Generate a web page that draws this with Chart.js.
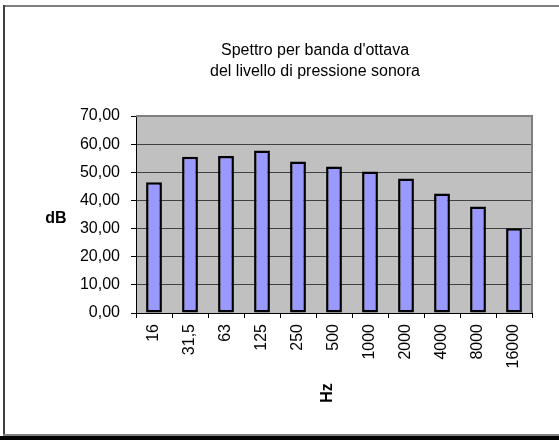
<!DOCTYPE html>
<html>
<head>
<meta charset="UTF-8">
<title>Spettro per banda d'ottava</title>
<script src="https://cdn.jsdelivr.net/npm/chart.js"></script>
<style>
  html, body { margin: 0; padding: 0; background: #fff; }
  #wrap { width: 559px; height: 440px; }
</style>
</head>
<body>
<div id="wrap"><canvas id="chart" width="559" height="440"></canvas></div>
<script>
// bande d'ottava (Hz) e livelli misurati (dB)
const bande = ['16', '31,5', '63', '125', '250', '500', '1000', '2000', '4000', '8000', '16000'];
const livelli = [46.5, 55.5, 55.8, 57.7, 53.8, 52.1, 50.3, 47.8, 42.5, 37.8, 30.1];
const titolo = ["Spettro per banda d'ottava", 'del livello di pressione sonora'];
const titoloY = 'dB';
const titoloX = 'Hz';

const FONT = "Arial, 'Liberation Sans', sans-serif";

// cornice esterna, sfondo grigio dell'area del grafico, titolo e titoli degli assi
const decorazioni = {
  id: 'decorazioni',
  beforeDraw(chart) {
    const { ctx, chartArea: a } = chart;
    ctx.save();
    ctx.fillStyle = '#c0c0c0';
    ctx.fillRect(a.left, a.top, a.right - a.left, a.bottom - a.top);
    // cornice
    ctx.strokeStyle = '#808080';
    ctx.lineWidth = 2;
    ctx.beginPath();
    ctx.moveTo(3, 6); ctx.lineTo(559, 6);
    ctx.stroke();
    ctx.strokeStyle = '#404040';
    ctx.beginPath();
    ctx.moveTo(4, 5); ctx.lineTo(4, 435);
    ctx.stroke();
    ctx.fillStyle = '#808080';
    ctx.fillRect(3, 434, 556, 2);
    ctx.fillStyle = '#000';
    ctx.fillRect(0, 436, 559, 4);
    ctx.restore();
  },
  afterDraw(chart) {
    const { ctx, chartArea: a } = chart;
    ctx.save();
    // bordo superiore e destro dell'area
    ctx.strokeStyle = '#808080';
    ctx.lineWidth = 2;
    ctx.beginPath();
    ctx.moveTo(a.left, a.top);
    ctx.lineTo(a.right, a.top);
    ctx.lineTo(a.right, a.bottom);
    ctx.stroke();
    ctx.fillStyle = '#000';
    ctx.textAlign = 'center';
    ctx.textBaseline = 'middle';
    ctx.font = '16px ' + FONT;
    titolo.forEach((riga, i) => ctx.fillText(riga, 315, 51 + i * 21));
    ctx.font = 'bold 16px ' + FONT;
    ctx.fillText(titoloY, 56, 219);
    ctx.translate((a.left + a.right) / 2 - 6, 393);
    ctx.rotate(-Math.PI / 2);
    ctx.fillText(titoloX, 0, 0);
    ctx.restore();
  }
};

new Chart(document.getElementById('chart'), {
  type: 'bar',
  data: {
    labels: bande,
    datasets: [{
      data: livelli,
      backgroundColor: '#9999ff',
      borderColor: '#000',
      borderWidth: 2.5,
      borderSkipped: false,
      barPercentage: 0.44,
      categoryPercentage: 1
    }]
  },
  options: {
    responsive: false,
    animation: false,
    layout: { padding: { left: 0, right: 27, top: 116, bottom: 0 } },
    plugins: {
      legend: { display: false },
      tooltip: { enabled: false }
    },
    scales: {
      x: {
        afterFit(s) { s.height = 127; },
        border: { color: '#000', width: 1 },
        grid: { drawOnChartArea: false, offset: true, tickLength: 5, tickColor: '#000' },
        ticks: {
          color: '#000', font: { family: FONT, size: 16 },
          minRotation: 90, maxRotation: 90, padding: 6, autoSkip: false
        }
      },
      y: {
        min: 0, max: 70,
        afterFit(s) { s.width = 136; },
        border: { color: '#000', width: 1 },
        grid: { color: '#404040', lineWidth: 1, tickLength: 5, tickColor: '#000' },
        ticks: {
          stepSize: 10, color: '#000', padding: 11,
          font: { family: FONT, size: 16 },
          callback: v => v.toFixed(2).replace('.', ',')
        }
      }
    }
  },
  plugins: [decorazioni]
});
</script>
</body>
</html>
